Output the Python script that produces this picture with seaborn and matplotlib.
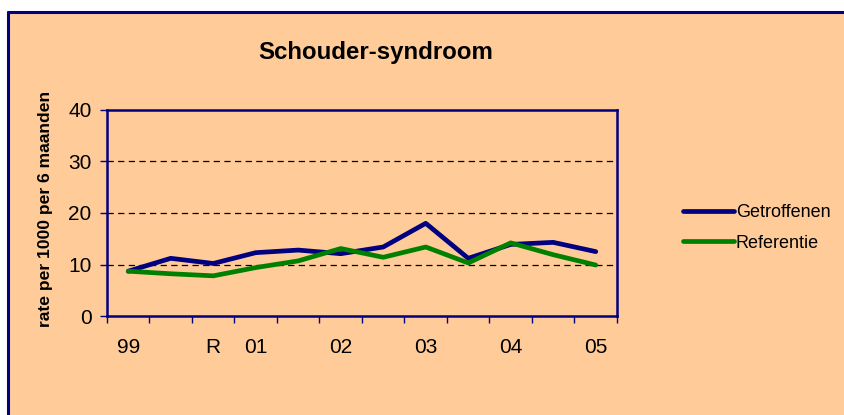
import matplotlib
matplotlib.use("Agg")
import matplotlib.pyplot as plt
from matplotlib.patches import Rectangle
import seaborn as sns
import pandas as pd
import numpy as np

categories = ["99", "", "R", "01", "", "02", "", "03", "", "04", "", "05"]
getroffenen = [8.7, 11.2, 10.2, 12.3, 12.8, 12.1, 13.4, 18.0, 11.2, 13.9, 14.3, 12.5]
referentie = [8.7, 8.2, 7.8, 9.4, 10.7, 13.1, 11.4, 13.4, 10.3, 14.2, 11.9, 9.9]
series_names = ["Getroffenen", "Referentie"]
yticks = [0, 10, 20, 30, 40]

peach = "#FFCC99"
navy = "#000080"
green = "#008000"

sns.set_theme(style="white")
plt.rcParams["font.family"] = ["Liberation Sans", "DejaVu Sans"]
plt.rcParams["text.color"] = "black"
plt.rcParams["axes.labelcolor"] = "black"

pos = np.arange(len(categories))
df = pd.DataFrame({
    "pos": np.concatenate([pos, pos]),
    "value": getroffenen + referentie,
    "serie": [series_names[0]] * len(pos) + [series_names[1]] * len(pos),
})

fig = plt.figure(figsize=(8.45, 4.15), dpi=100, facecolor="white")
fig.patches.append(Rectangle((8 / 845, 0), 1, 1 - 12 / 415, transform=fig.transFigure,
                             facecolor=peach, edgecolor="none", zorder=-10))
fig.lines.append(plt.Line2D([8 / 845, 8 / 845], [0, 1 - 12 / 415], transform=fig.transFigure,
                            color=navy, lw=2.2))
fig.lines.append(plt.Line2D([8 / 845, 1], [1 - 12 / 415, 1 - 12 / 415], transform=fig.transFigure,
                            color=navy, lw=2.2))

ax = fig.add_axes([107 / 845, 1 - 316 / 415, (617 - 107) / 845, (316 - 110) / 415])
ax.set_facecolor(peach)

sns.lineplot(data=df, x="pos", y="value", hue="serie", palette=[navy, green],
             linewidth=3.4, ax=ax, legend=False, zorder=3)

ax.set_xlim(-0.5, len(categories) - 0.5)
ax.set_ylim(0, 40)
ax.set_yticks(yticks)
ax.set_yticklabels([str(t) for t in yticks])
for t in yticks[1:-1]:
    ax.axhline(t, color="black", lw=0.9, linestyle=(0, (5, 3.5)), zorder=1)

ax.set_xticks(pos)
ax.set_xticklabels(categories)
ax.set_xticks(np.arange(-0.5, len(categories)), minor=True)
ax.tick_params(axis="x", which="major", length=0, pad=16, labelsize=15, labelcolor="black")
ax.tick_params(axis="x", which="minor", length=5, width=1, color=navy, direction="out", bottom=True)
ax.tick_params(axis="y", which="major", length=5, width=1, color=navy, direction="out",
               left=True, pad=6, labelsize=15, labelcolor="black")

for s in ax.spines.values():
    s.set_visible(True)
    s.set_color(navy)
    s.set_linewidth(1.8)

ax.set_xlabel("")
ax.set_ylabel("rate per 1000 per 6 maanden", fontsize=12.6, fontweight="bold", color="black")
ax.yaxis.set_label_coords(-0.106, 0.52)

fig.text(376 / 845, 1 - 52 / 415, "Schouder-syndroom", ha="center", va="center",
         fontsize=17.3, fontweight="bold", color="black")

handles = [plt.Line2D([], [], color=navy, lw=3.4), plt.Line2D([], [], color=green, lw=3.4)]
fig.legend(handles, series_names, loc="center left", bbox_to_anchor=(683 / 845, 1 - 228 / 415),
           frameon=False, fontsize=13, handlelength=2.85, handletextpad=0.08,
           labelspacing=0.75, borderaxespad=0, borderpad=0)

fig.savefig("out.png", dpi=100, facecolor="white")
